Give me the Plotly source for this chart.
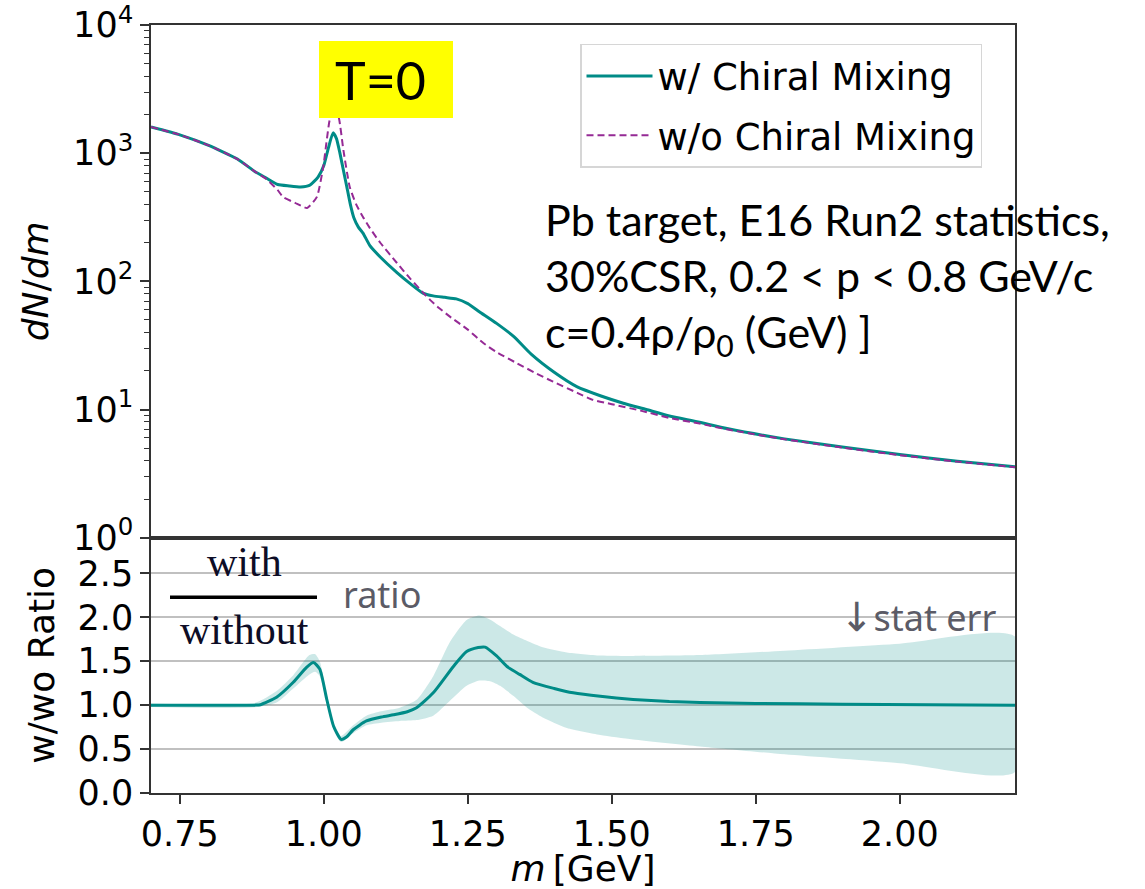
import plotly.graph_objects as go

# ---------------- data ----------------
m_with = [0.70, 0.75, 0.80, 0.85, 0.88, 0.90, 0.92, 0.94, 0.96, 0.975, 0.99, 1.00, 1.008,
          1.016, 1.022, 1.028, 1.035, 1.04, 1.046, 1.052, 1.06, 1.068, 1.08, 1.098, 1.127,
          1.15, 1.172, 1.19, 1.21, 1.23, 1.25, 1.27, 1.30, 1.33, 1.36, 1.40, 1.44, 1.48,
          1.52, 1.56, 1.60, 1.65, 1.70, 1.80, 1.90, 2.00, 2.10, 2.20]
dndm_with = [1600, 1390, 1150, 900, 720, 640, 570, 555, 545, 560, 650, 800, 1100,
             1440, 1300, 1000, 700, 545, 400, 315, 265, 238, 190, 155, 117,
             96, 81, 77, 75, 73, 67, 58, 47, 37, 27, 19.5, 15, 12.8,
             11.2, 10.0, 8.9, 8.0, 7.1, 5.9, 5.1, 4.45, 3.95, 3.58]

m_without = [0.70, 0.75, 0.80, 0.85, 0.88, 0.90, 0.92, 0.929, 0.95, 0.971, 0.988, 0.999,
             1.01, 1.018, 1.026, 1.034, 1.045, 1.056, 1.068, 1.08, 1.098, 1.127, 1.15,
             1.172, 1.184, 1.20, 1.219, 1.25, 1.277, 1.30, 1.335, 1.37, 1.398, 1.44,
             1.467, 1.50, 1.55, 1.60, 1.65, 1.70, 1.80, 1.90, 2.00, 2.10, 2.20]
dndm_without = [1600, 1390, 1150, 900, 720, 630, 515, 456, 410, 374, 456, 780,
                1800, 2300, 1900, 1060, 545, 400, 318, 260, 200, 139, 105,
                82, 72, 62, 53, 42, 33, 28, 23, 19, 16.5, 13.5,
                11.9, 11.0, 9.8, 8.6, 7.8, 7.0, 5.85, 5.05, 4.4, 3.92, 3.55]

m_ratio = [0.70, 0.80, 0.88, 0.89, 0.918, 0.947, 0.97, 0.982, 0.993, 1.005, 1.017, 1.03,
           1.04, 1.051, 1.074, 1.10, 1.121, 1.145, 1.161, 1.19, 1.225, 1.248, 1.268, 1.28,
           1.30, 1.318, 1.34, 1.363, 1.40, 1.433, 1.48, 1.537, 1.60, 1.653, 1.75, 1.90,
           2.05, 2.20]
ratio = [1.0, 1.0, 1.0, 1.005, 1.09, 1.26, 1.43, 1.485, 1.41, 1.07, 0.76, 0.61,
         0.64, 0.72, 0.82, 0.865, 0.89, 0.925, 0.97, 1.14, 1.44, 1.61, 1.655, 1.66,
         1.56, 1.44, 1.35, 1.26, 1.19, 1.14, 1.10, 1.065, 1.04, 1.03, 1.02, 1.01,
         1.005, 1.0]

m_band = [0.70, 0.88, 0.918, 0.947, 0.975, 0.985, 0.993, 1.005, 1.017, 1.03, 1.051,
          1.074, 1.10, 1.132, 1.161, 1.19, 1.219, 1.248, 1.27, 1.29, 1.306, 1.33,
          1.353, 1.38, 1.422, 1.48, 1.537, 1.653, 1.80, 2.00, 2.20]
band_upper = [1.02, 1.025, 1.16, 1.34, 1.57, 1.58, 1.50, 1.12, 0.80, 0.65, 0.77,
              0.88, 0.93, 0.97, 1.06, 1.33, 1.72, 1.97, 2.02, 1.97, 1.90, 1.80,
              1.73, 1.66, 1.60, 1.565, 1.56, 1.57, 1.62, 1.70, 1.78]
band_lower = [0.98, 0.975, 1.03, 1.19, 1.35, 1.38, 1.33, 1.02, 0.72, 0.58, 0.68,
              0.77, 0.80, 0.82, 0.83, 0.88, 1.05, 1.22, 1.28, 1.27, 1.22, 1.10,
              0.97, 0.86, 0.74, 0.66, 0.61, 0.53, 0.44, 0.34, 0.24]

x_ticks = [0.75, 1.00, 1.25, 1.50, 1.75, 2.00]
ratio_ticks = [0.0, 0.5, 1.0, 1.5, 2.0, 2.5]
log_ticks = [1, 10, 100, 1000, 10000]
log_ticktext = ["10<sup>0</sup>", "10<sup>1</sup>", "10<sup>2</sup>", "10<sup>3</sup>", "10<sup>4</sup>"]
minor_log = [k * 10 ** e for e in range(4) for k in range(2, 10)]

# ---------------- style / layout ----------------
W, H = 1145, 889
L, R, T, B = 151, 1015, 25, 793.5
SPLIT = 538
TEAL = "#008b87"
PURPLE = "#952a95"
AX = "#333333"
TICKFONT = dict(family="DejaVu Sans", size=35, color="black")


def px(xp):
    return (xp - L) / (R - L)


def py(yp):
    return 1 - (yp - T) / (B - T)


split_dom = py(SPLIT)

fig = go.Figure()

fig.add_trace(go.Scatter(
    x=m_band + m_band[::-1], y=band_upper + band_lower[::-1],
    fill="toself", fillcolor="rgba(0,139,135,0.2)", line=dict(width=0, shape="spline", smoothing=0.6),
    mode="lines", showlegend=False, hoverinfo="skip", xaxis="x", yaxis="y"))
fig.add_trace(go.Scatter(
    x=m_ratio, y=ratio, mode="lines", line=dict(color=TEAL, width=3, shape="spline", smoothing=0.6),
    showlegend=False, xaxis="x", yaxis="y"))

fig.add_trace(go.Scatter(
    x=m_with, y=dndm_with, mode="lines", name="w/ Chiral Mixing",
    line=dict(color=TEAL, width=3, shape="spline", smoothing=0.5),
    legendgroup="a", xaxis="x2", yaxis="y2"))
fig.add_trace(go.Scatter(
    x=m_without, y=dndm_without, mode="lines", name="w/o Chiral Mixing",
    line=dict(color=PURPLE, width=2, dash="7px,4px", shape="spline", smoothing=0.5),
    legendgroup="b", xaxis="x2", yaxis="y2"))

axis_common = dict(showline=True, linecolor=AX, linewidth=1.5, mirror=True,
                   zeroline=False, tickcolor=AX, tickwidth=1.5, automargin=False,
                   ticklabeloverflow="allow")

fig.update_layout(
    width=W, height=H,
    margin=dict(l=L, r=W - R, t=T, b=H - B, pad=0, autoexpand=False),
    paper_bgcolor="white", plot_bgcolor="white",
    font=dict(family="DejaVu Sans", color="black"),
    xaxis=dict(domain=[0, 1], anchor="y", range=[0.7, 2.2], tickvals=x_ticks,
               ticktext=[f"{v:.2f}" for v in x_ticks], ticks="outside", ticklen=9,
               showgrid=False, tickfont=TICKFONT,
               title=dict(text="<i>m</i>\u2009[GeV]", font=dict(family="DejaVu Sans", size=36),
                          standoff=6),
               **axis_common),
    xaxis2=dict(domain=[0, 1], anchor="y2", matches="x", showticklabels=False,
                ticks="", showgrid=False, **axis_common),
    yaxis=dict(domain=[0, split_dom], anchor="x", range=[0, 2.906], tickvals=ratio_ticks,
               ticktext=[f"{v:.1f}" for v in ratio_ticks], ticks="outside", ticklen=9,
               showgrid=True, gridcolor="#c0c0c0", gridwidth=1.5, tickfont=TICKFONT,
               title=dict(text="w/wo Ratio", font=dict(family="DejaVu Sans", size=36),
                          standoff=12),
               **axis_common),
    yaxis2=dict(domain=[split_dom, 1], anchor="x2", type="log", range=[0, 4],
                tickvals=log_ticks, ticktext=log_ticktext, ticks="outside", ticklen=9,
                showgrid=False, tickfont=TICKFONT,
                minor=dict(tickvals=minor_log, ticks="outside", ticklen=5, tickwidth=1,
                           tickcolor=AX, showgrid=False),
                title=dict(text="<i>dN</i>/<i>dm</i>", font=dict(family="DejaVu Sans", size=36),
                           standoff=14),
                **axis_common),
    legend=dict(x=px(580), y=py(44), xanchor="left", yanchor="top",
                bgcolor="white", bordercolor="#d6d6d6", borderwidth=1.5,
                font=dict(family="DejaVu Sans", size=37, color="black"),
                tracegroupgap=8, itemwidth=66),
    showlegend=True,
)

shapes = [
    dict(type="rect", xref="paper", yref="paper", x0=px(319), x1=px(453), y0=py(118), y1=py(41),
         fillcolor="#ffff00", line=dict(width=0), layer="above"),
    dict(type="line", xref="paper", yref="paper", x0=px(170), x1=px(317), y0=py(597.7),
         y1=py(597.7), line=dict(color="black", width=3.5), layer="above"),
]
fig.update_layout(shapes=shapes)

annotations = [
    dict(text="T=0", x=px(380), y=py(80), xanchor="center", yanchor="middle",
         font=dict(family="Lato", size=52, color="black")),
    dict(text="Pb target, E16 Run2 statistics,<br>30%CSR, 0.2 &lt; p &lt; 0.8 GeV/c<br>"
              "c=0.4ρ/ρ<sub>0</sub> (GeV) ]",
         x=px(543), y=py(192), xanchor="left", yanchor="top", align="left",
         font=dict(family="Lato", size=43, color="black")),
    dict(text="with", x=px(244.5), y=py(562), xanchor="center", yanchor="middle",
         font=dict(family="Liberation Serif", size=42, color="#0d0d26")),
    dict(text="without", x=px(244.5), y=py(630), xanchor="center", yanchor="middle",
         font=dict(family="Liberation Serif", size=42, color="#0d0d26")),
    dict(text="ratio", x=px(382), y=py(595), xanchor="center", yanchor="middle",
         font=dict(family="Noto Sans", size=36, color="#5b5b66")),
    dict(text="<span style='font-family:DejaVu Sans;font-size:40px'>↓</span>stat err",
         x=px(838), y=py(618), xanchor="left", yanchor="middle",
         font=dict(family="Noto Sans", size=36, color="#5b5b66")),
]
for a in annotations:
    a.update(xref="paper", yref="paper", showarrow=False)
fig.update_layout(annotations=annotations)

fig.write_html("out.html")
